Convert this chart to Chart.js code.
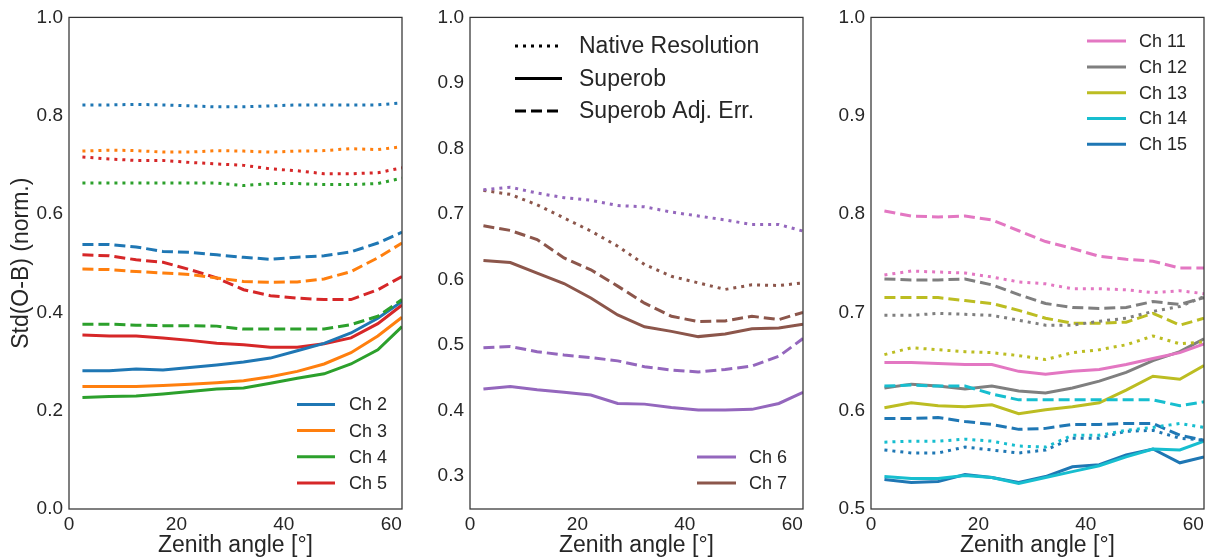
<!DOCTYPE html>
<html>
<head>
<meta charset="utf-8">
<script src="https://cdn.jsdelivr.net/npm/chart.js@4.4.1/dist/chart.umd.min.js"></script>
<style>
  html, body { margin: 0; padding: 0; background: #fff; overflow: hidden; }
  #wrap { position: relative; width: 1209px; height: 559px; }
  .panel { position: absolute; top: 0; width: 410px; height: 559px; }
  .panel canvas { display: block; }
</style>
</head>
<body>
<div id="wrap">
  <div class="panel" style="left:0px"><canvas id="c1" width="410" height="559"></canvas></div>
  <div class="panel" style="left:401px"><canvas id="c2" width="410" height="559"></canvas></div>
  <div class="panel" style="left:802px"><canvas id="c3" width="410" height="559"></canvas></div>
</div>
<script>
// zenith angle bins
const angles = [2.5, 7.5, 12.5, 17.5, 22.5, 27.5, 32.5, 37.5, 42.5, 47.5, 52.5, 57.5, 62];
const xTicks = [0, 20, 40, 60];
const yTicks1 = [0.0, 0.2, 0.4, 0.6, 0.8, 1.0];
const yTicks2 = [0.3, 0.4, 0.5, 0.6, 0.7, 0.8, 0.9, 1.0];
const yTicks3 = [0.5, 0.6, 0.7, 0.8, 0.9, 1.0];

// panel 1
const ch2Native = [0.822, 0.822, 0.823, 0.822, 0.820, 0.818, 0.818, 0.820, 0.822, 0.822, 0.822, 0.822, 0.826];
const ch3Native = [0.728, 0.730, 0.729, 0.726, 0.726, 0.729, 0.728, 0.726, 0.728, 0.729, 0.733, 0.731, 0.737];
const ch4Native = [0.663, 0.663, 0.663, 0.663, 0.663, 0.663, 0.658, 0.662, 0.662, 0.660, 0.660, 0.662, 0.673];
const ch5Native = [0.716, 0.712, 0.709, 0.709, 0.705, 0.702, 0.699, 0.692, 0.688, 0.682, 0.682, 0.684, 0.694];
const ch2Superob = [0.281, 0.281, 0.285, 0.283, 0.288, 0.293, 0.299, 0.307, 0.322, 0.337, 0.358, 0.388, 0.422];
const ch3Superob = [0.249, 0.249, 0.249, 0.251, 0.254, 0.257, 0.261, 0.269, 0.280, 0.295, 0.318, 0.352, 0.390];
const ch4Superob = [0.227, 0.229, 0.230, 0.234, 0.239, 0.244, 0.246, 0.256, 0.266, 0.275, 0.295, 0.324, 0.371];
const ch5Superob = [0.354, 0.352, 0.352, 0.348, 0.343, 0.337, 0.334, 0.329, 0.329, 0.336, 0.348, 0.377, 0.415];
const ch2AdjErr = [0.538, 0.538, 0.533, 0.524, 0.522, 0.517, 0.512, 0.508, 0.512, 0.515, 0.523, 0.541, 0.563];
const ch3AdjErr = [0.488, 0.487, 0.483, 0.480, 0.477, 0.470, 0.463, 0.461, 0.462, 0.468, 0.483, 0.511, 0.541];
const ch4AdjErr = [0.376, 0.376, 0.374, 0.373, 0.373, 0.372, 0.366, 0.366, 0.366, 0.366, 0.375, 0.392, 0.426];
const ch5AdjErr = [0.517, 0.515, 0.507, 0.502, 0.487, 0.470, 0.446, 0.434, 0.429, 0.426, 0.426, 0.446, 0.473];

// panel 2
const ch6Native = [0.737, 0.741, 0.732, 0.725, 0.721, 0.713, 0.711, 0.703, 0.697, 0.691, 0.684, 0.684, 0.674];
const ch7Native = [0.736, 0.730, 0.714, 0.694, 0.674, 0.651, 0.623, 0.605, 0.595, 0.585, 0.592, 0.591, 0.595];
const ch6Superob = [0.433, 0.437, 0.432, 0.428, 0.424, 0.411, 0.410, 0.405, 0.401, 0.401, 0.402, 0.411, 0.428];
const ch7Superob = [0.629, 0.626, 0.610, 0.594, 0.572, 0.546, 0.528, 0.521, 0.513, 0.517, 0.525, 0.526, 0.532];
const ch6AdjErr = [0.496, 0.498, 0.490, 0.485, 0.481, 0.476, 0.467, 0.462, 0.459, 0.463, 0.468, 0.483, 0.510];
const ch7AdjErr = [0.682, 0.675, 0.661, 0.633, 0.615, 0.590, 0.564, 0.544, 0.536, 0.537, 0.544, 0.539, 0.550];

// panel 3
const ch11Native = [0.738, 0.742, 0.741, 0.740, 0.736, 0.731, 0.729, 0.724, 0.724, 0.723, 0.720, 0.722, 0.719];
const ch12Native = [0.697, 0.697, 0.699, 0.698, 0.697, 0.692, 0.687, 0.687, 0.691, 0.694, 0.701, 0.706, 0.716];
const ch13Native = [0.657, 0.664, 0.662, 0.660, 0.659, 0.656, 0.652, 0.659, 0.662, 0.667, 0.676, 0.668, 0.670];
const ch14Native = [0.568, 0.569, 0.569, 0.571, 0.569, 0.564, 0.563, 0.575, 0.575, 0.580, 0.583, 0.587, 0.583];
const ch15Native = [0.560, 0.557, 0.557, 0.563, 0.560, 0.557, 0.560, 0.572, 0.572, 0.579, 0.580, 0.572, 0.570];
const ch11Superob = [0.649, 0.649, 0.648, 0.647, 0.647, 0.640, 0.637, 0.640, 0.642, 0.647, 0.653, 0.659, 0.668];
const ch12Superob = [0.623, 0.627, 0.625, 0.622, 0.625, 0.620, 0.618, 0.623, 0.630, 0.639, 0.651, 0.660, 0.673];
const ch13Superob = [0.603, 0.608, 0.605, 0.604, 0.606, 0.597, 0.601, 0.604, 0.608, 0.621, 0.635, 0.632, 0.646];
const ch14Superob = [0.533, 0.531, 0.531, 0.534, 0.532, 0.526, 0.532, 0.538, 0.544, 0.553, 0.561, 0.560, 0.569];
const ch15Superob = [0.530, 0.527, 0.528, 0.535, 0.532, 0.527, 0.533, 0.543, 0.545, 0.555, 0.561, 0.547, 0.553];
const ch11AdjErr = [0.803, 0.798, 0.797, 0.798, 0.794, 0.783, 0.772, 0.765, 0.757, 0.754, 0.752, 0.745, 0.745];
const ch12AdjErr = [0.734, 0.733, 0.733, 0.734, 0.728, 0.718, 0.709, 0.705, 0.704, 0.705, 0.711, 0.708, 0.715];
const ch13AdjErr = [0.715, 0.715, 0.715, 0.712, 0.709, 0.702, 0.694, 0.689, 0.689, 0.690, 0.699, 0.687, 0.694];
const ch14AdjErr = [0.625, 0.626, 0.625, 0.625, 0.617, 0.611, 0.611, 0.611, 0.611, 0.611, 0.611, 0.605, 0.609];
const ch15AdjErr = [0.592, 0.592, 0.593, 0.589, 0.586, 0.581, 0.582, 0.586, 0.586, 0.587, 0.587, 0.575, 0.570];

const FONT = '"Liberation Sans", Arial, sans-serif';
const TEXT = '#262626';
const DOTTED = [3, 5];
const DASHED = [11, 5];

const COLORS = {
    2: '#1f77b4', 3: '#ff7f0e', 4: '#2ca02c', 5: '#d62728',
    6: '#9467bd', 7: '#8c564b',
    11: '#e377c2', 12: '#7f7f7f', 13: '#bcbd22', 14: '#17becf', 15: '#1f77b4'
};

function series(values, color, dash) {
    return {
        data: angles.map((a, i) => ({ x: a, y: values[i] })),
        borderColor: color,
        backgroundColor: color,
        borderWidth: 3,
        borderDash: dash,
        borderCapStyle: 'butt',
        pointRadius: 0,
        tension: 0,
        fill: false
    };
}

// frame + in-axes legends
const panelDecor = {
    id: 'panelDecor',
    afterDatasetsDraw(chart, args, opts) {
        const ctx = chart.ctx;
        const a = chart.chartArea;
        ctx.save();
        ctx.strokeStyle = '#333333';
        ctx.lineWidth = 1.25;
        ctx.setLineDash([]);
        ctx.strokeRect(a.left, a.top, a.right - a.left, a.bottom - a.top);

        (opts.legends || []).forEach(lg => {
            ctx.font = lg.size + 'px ' + FONT;
            ctx.textBaseline = 'middle';
            ctx.textAlign = 'left';
            lg.items.forEach((it, i) => {
                const y = a.top + lg.y0 + i * lg.dy;
                ctx.beginPath();
                ctx.strokeStyle = it.color;
                ctx.lineWidth = 3;
                ctx.lineCap = 'butt';
                ctx.setLineDash(it.dash || []);
                ctx.moveTo(a.left + lg.x0, y);
                ctx.lineTo(a.left + lg.x1, y);
                ctx.stroke();
                ctx.setLineDash([]);
                ctx.fillStyle = TEXT;
                ctx.fillText(it.label, a.left + lg.xt, y + 1);
            });
        });
        ctx.restore();
    }
};

function makePanel(id, datasets, yMin, yMax, yTicks, yTitle, legends) {
    const ctx = document.getElementById(id).getContext('2d');
    return new Chart(ctx, {
        type: 'line',
        data: { datasets },
        options: {
            responsive: false,
            animation: false,
            layout: { padding: { top: 17, right: 8, bottom: 0, left: 0 } },
            plugins: {
                legend: { display: false },
                tooltip: { enabled: false },
                panelDecor: { legends }
            },
            scales: {
                x: {
                    type: 'linear',
                    min: 0,
                    max: 62,
                    afterBuildTicks: s => { s.ticks = xTicks.map(v => ({ value: v })); },
                    afterFit: s => { s.height = 50; },
                    grid: { display: false, drawTicks: false },
                    border: { display: false },
                    ticks: {
                        padding: 4,
                        color: TEXT,
                        font: { family: FONT, size: 19 },
                        maxRotation: 0,
                        callback: v => String(v)
                    },
                    title: {
                        display: true,
                        text: 'Zenith angle [°]',
                        color: TEXT,
                        font: { family: FONT, size: 23 },
                        padding: { top: 0, bottom: 0 }
                    }
                },
                y: {
                    type: 'linear',
                    min: yMin,
                    max: yMax,
                    afterBuildTicks: s => { s.ticks = yTicks.map(v => ({ value: v })); },
                    afterFit: s => { s.width = 69; },
                    grid: { display: false, drawTicks: false },
                    border: { display: false },
                    ticks: {
                        padding: 6,
                        color: TEXT,
                        font: { family: FONT, size: 19 },
                        callback: v => v.toFixed(1)
                    },
                    title: {
                        display: !!yTitle,
                        text: yTitle,
                        color: TEXT,
                        font: { family: FONT, size: 23 },
                        padding: { top: 8, bottom: 0 }
                    }
                }
            }
        },
        plugins: [panelDecor]
    });
}

// panel 1
makePanel('c1', [
    series(ch2Native, COLORS[2], DOTTED),
    series(ch3Native, COLORS[3], DOTTED),
    series(ch4Native, COLORS[4], DOTTED),
    series(ch5Native, COLORS[5], DOTTED),
    series(ch2AdjErr, COLORS[2], DASHED),
    series(ch3AdjErr, COLORS[3], DASHED),
    series(ch4AdjErr, COLORS[4], DASHED),
    series(ch5AdjErr, COLORS[5], DASHED),
    series(ch2Superob, COLORS[2], []),
    series(ch3Superob, COLORS[3], []),
    series(ch4Superob, COLORS[4], []),
    series(ch5Superob, COLORS[5], [])
], 0, 1, yTicks1, 'Std(O-B) (norm.)', [{
    size: 18, x0: 228, x1: 266, xt: 280, y0: 387, dy: 26.2,
    items: [2, 3, 4, 5].map(c => ({ label: 'Ch ' + c, color: COLORS[c] }))
}]);

// panel 2
makePanel('c2', [
    series(ch6Native, COLORS[6], DOTTED),
    series(ch7Native, COLORS[7], DOTTED),
    series(ch6AdjErr, COLORS[6], DASHED),
    series(ch7AdjErr, COLORS[7], DASHED),
    series(ch6Superob, COLORS[6], []),
    series(ch7Superob, COLORS[7], [])
], 0.25, 1, yTicks2, '', [{
    size: 23, x0: 45, x1: 92, xt: 109, y0: 28.5, dy: 32.5,
    items: [
        { label: 'Native Resolution', color: '#000', dash: DOTTED },
        { label: 'Superob', color: '#000', dash: [] },
        { label: 'Superob Adj. Err.', color: '#000', dash: DASHED }
    ]
}, {
    size: 18, x0: 227, x1: 266, xt: 279, y0: 439.5, dy: 26,
    items: [6, 7].map(c => ({ label: 'Ch ' + c, color: COLORS[c] }))
}]);

// panel 3
makePanel('c3', [
    series(ch11Native, COLORS[11], DOTTED),
    series(ch12Native, COLORS[12], DOTTED),
    series(ch13Native, COLORS[13], DOTTED),
    series(ch14Native, COLORS[14], DOTTED),
    series(ch15Native, COLORS[15], DOTTED),
    series(ch11AdjErr, COLORS[11], DASHED),
    series(ch12AdjErr, COLORS[12], DASHED),
    series(ch13AdjErr, COLORS[13], DASHED),
    series(ch14AdjErr, COLORS[14], DASHED),
    series(ch15AdjErr, COLORS[15], DASHED),
    series(ch11Superob, COLORS[11], []),
    series(ch12Superob, COLORS[12], []),
    series(ch13Superob, COLORS[13], []),
    series(ch14Superob, COLORS[14], []),
    series(ch15Superob, COLORS[15], [])
], 0.5, 1, yTicks3, '', [{
    size: 18, x0: 216, x1: 255, xt: 268, y0: 23.7, dy: 25.8,
    items: [11, 12, 13, 14, 15].map(c => ({ label: 'Ch ' + c, color: COLORS[c] }))
}]);
</script>
</body>
</html>
